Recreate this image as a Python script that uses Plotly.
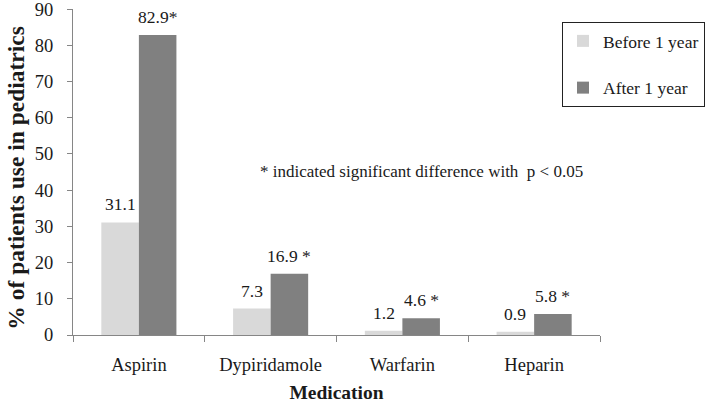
import plotly.graph_objects as go

categories = ["Aspirin", "Dypiridamole", "Warfarin", "Heparin"]
before_values = [31.1, 7.3, 1.2, 0.9]
after_values = [82.9, 16.9, 4.6, 5.8]
before_labels = ["31.1", "7.3", "1.2", "0.9"]
after_labels = ["82.9*", "16.9 *", "4.6 *", "5.8 *"]
y_ticks = [0, 10, 20, 30, 40, 50, 60, 70, 80, 90]

FONT = "Liberation Serif, Times New Roman, serif"
TXT = "#1a1a1a"

W, H = 709, 403
ML, MR, MT, MB = 73, 109, 9, 68
BARGAP = 0.43

fig = go.Figure()
fig.add_trace(go.Bar(
    x=categories, y=before_values, name="Before 1 year",
    marker=dict(color="#d9d9d9", line=dict(width=0)),
    legendgroup="a",
))
fig.add_trace(go.Bar(
    x=categories, y=after_values, name="After 1 year",
    marker=dict(color="#808080", line=dict(width=0)),
    legendgroup="b",
))

# value labels above bars
plot_w = W - ML - MR
bar_w = plot_w / len(categories) * (1 - BARGAP) / 2
for labels, values, sign in ((before_labels, before_values, -1), (after_labels, after_values, 1)):
    for cat, val, lab in zip(categories, values, labels):
        fig.add_annotation(
            x=cat, y=val, xref="x", yref="y", text=lab, showarrow=False,
            xanchor="center", yanchor="bottom", xshift=sign * bar_w / 2, yshift=6,
            font=dict(family=FONT, size=17.5, color=TXT),
        )

fig.add_annotation(
    text="* indicated significant difference with  p < 0.05",
    xref="paper", yref="y", x=(258 - ML) / plot_w, y=45.3, xanchor="left", yanchor="middle",
    showarrow=False, font=dict(family=FONT, size=17, color=TXT),
)

fig.update_layout(
    width=W, height=H,
    margin=dict(l=ML, r=MR, t=MT, b=MB, autoexpand=False),
    paper_bgcolor="white", plot_bgcolor="white",
    barmode="group", bargap=BARGAP, bargroupgap=0,
    font=dict(family=FONT, size=18, color=TXT),
    showlegend=True,
    legend=dict(
        xref="paper", yref="paper",
        x=(562 - ML) / plot_w, y=1 - (22 - MT) / (H - MT - MB), xanchor="left", yanchor="top",
        bordercolor="#222", borderwidth=1, bgcolor="white",
        font=dict(family=FONT, size=17.5, color=TXT),
        tracegroupgap=21, traceorder="grouped",
        itemwidth=30,
    ),
    xaxis=dict(
        automargin=False,
        showline=True, linecolor="#868686", linewidth=1,
        ticks="outside", tickson="boundaries", ticklen=6, tickcolor="#868686",
        ticklabelstandoff=13,
        tickfont=dict(family=FONT, size=18.5, color=TXT),
        title=dict(text="<b>Medication</b>", font=dict(family=FONT, size=19.5, color=TXT), standoff=12),
        showgrid=False,
    ),
    yaxis=dict(
        automargin=False,
        range=[0, 90.05], tickvals=y_ticks,
        showline=True, linecolor="#868686", linewidth=1,
        ticks="outside", ticklen=5, tickcolor="#868686",
        ticklabelstandoff=10, ticklabeloverflow="allow",
        tickfont=dict(family=FONT, size=18.5, color=TXT),
        title=dict(text="<b>% of patients use in pediatrics</b>&nbsp;&nbsp;", font=dict(family=FONT, size=23.5, color=TXT), standoff=3),
        showgrid=False, zeroline=False,
    ),
)

fig.write_html("out.html", config={"displayModeBar": False},
               post_script="document.body.style.margin='0';")
